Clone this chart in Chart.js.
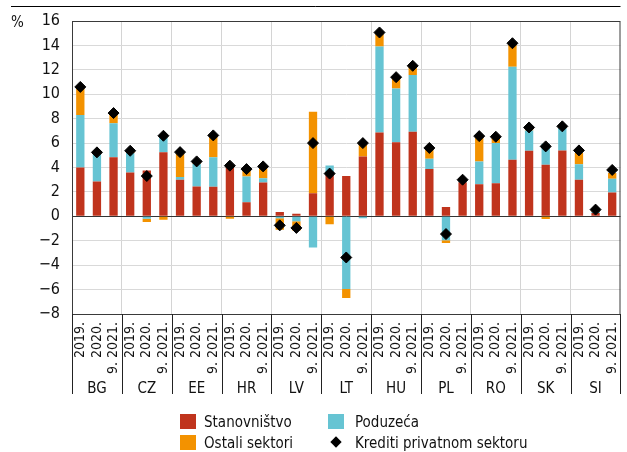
<!DOCTYPE html>
<html>
<head>
<meta charset="utf-8">
<script src="https://cdn.jsdelivr.net/npm/chart.js@4.4.1/dist/chart.umd.min.js"></script>
<style>
  body { margin: 0; background: #fff; }
  #wrap { position: relative; width: 627px; height: 452px; }
  #legend { position: absolute; left: 0; top: 0; width: 627px; height: 452px; pointer-events: none;
            font-family: 'Liberation Sans Narrow', 'DejaVu Sans Condensed', sans-serif; font-size: 15px; color: #111; }
  .item { position: absolute; height: 16px; line-height: 16px; white-space: nowrap; }
  .sw { position: absolute; left: 0; top: 0; width: 16px; height: 15px; }
  .dia { position: absolute; left: 4px; top: 3px; width: 8px; height: 8px; background: #000; transform: rotate(45deg); }
  .lbl { position: absolute; left: 24px; top: 0; }
</style>
</head>
<body>
<div id="wrap">
  <canvas id="chart" width="627" height="452"></canvas>
  <div id="legend">
    <div class="item" style="left:180px; top:414px;"><div class="sw" style="background:#c0341d"></div><span class="lbl">Stanovništvo</span></div>
    <div class="item" style="left:328px; top:414px;"><div class="sw" style="background:#66c4d3"></div><span class="lbl" style="left:27px">Poduzeća</span></div>
    <div class="item" style="left:180px; top:435px;"><div class="sw" style="background:#f39200"></div><span class="lbl">Ostali sektori</span></div>
    <div class="item" style="left:328px; top:435px;"><div class="dia"></div><span class="lbl" style="left:27px">Krediti privatnom sektoru</span></div>
  </div>
</div>
<script>
var countries = ['BG', 'CZ', 'EE', 'HR', 'LV', 'LT', 'HU', 'PL', 'RO', 'SK', 'SI'];
var periods = ['2019.', '2020.', '9. 2021.'];

// three values per country, in the order of periods
var stanovnistvo = [
  4.0, 2.86, 4.83,   3.6, 3.76, 5.24,   3.0, 2.45, 2.43,   4.15, 1.15, 2.78,
  0.35, 0.22, 1.9,   3.5, 3.3, 4.91,    6.87, 6.06, 6.93,  3.87, 0.76, 2.8,
  2.62, 2.7, 4.64,   5.37, 4.23, 5.4,   3.0, 0.27, 1.96
];
var poduzeca = [
  4.3, 2.24, 2.8,    1.58, -0.2, 1.3,   0.22, 1.86, 2.4,   0.1, 2.12, 0.33,
  -0.15, -0.4, -2.56, 0.67, -5.95, -0.16, 7.04, 4.41, 4.64, 0.85, -1.96, 0.1,
  1.88, 3.3, 7.61,   1.67, 1.72, 1.83,  1.26, 0.1, 1.12
];
var ostali = [
  2.26, 0.14, 0.82,  0.2, -0.27, -0.27, 2.02, 0.15, 1.72,  -0.2, 0.49, 0.9,
  -0.95, -0.77, 6.66, -0.65, -0.74, 1.04, 1.15, 0.93, 0.76, 0.82, -0.22, 0.1,
  2.05, 0.49, 1.93,  0.2, -0.22, 0.14,  0.92, 0.18, 0.47
];
var krediti = [
  10.6, 5.24, 8.46,  5.37, 3.3, 6.6,    5.26, 4.5, 6.63,   4.15, 3.87, 4.09,
  -0.74, -0.95, 6.0, 3.5, -3.37, 6.0,   15.06, 11.4, 12.33, 5.6, -1.45, 3.0,
  6.57, 6.52, 14.18, 7.28, 5.73, 7.37,  5.4, 0.55, 3.8
];

var labels = [];
countries.forEach(function (c) {
  periods.forEach(function (p) { labels.push(p); });
});

var FONT = "'Liberation Sans Narrow', 'DejaVu Sans Condensed', sans-serif";

var groupAxis = {
  id: 'groupAxis',
  afterDraw: function (chart) {
    var ctx = chart.ctx;
    var area = chart.chartArea;
    var x = chart.scales.x;
    ctx.save();
    // plot frame
    ctx.strokeStyle = '#3a3a3a';
    ctx.lineWidth = 1;
    ctx.strokeRect(area.left + 0.5, area.top + 0.5, area.right - area.left - 1, area.bottom - area.top);
    // rule above the chart
    ctx.strokeStyle = '#000';
    ctx.beginPath();
    ctx.moveTo(11, 6.5);
    ctx.lineTo(area.right, 6.5);
    ctx.stroke();
    // unit
    ctx.fillStyle = '#111';
    ctx.font = '15px ' + FONT;
    ctx.textAlign = 'left';
    ctx.textBaseline = 'middle';
    ctx.fillText('%', 11, 23);
    // group separators and country names
    ctx.strokeStyle = '#222';
    ctx.beginPath();
    for (var g = 0; g <= countries.length; g++) {
      var px;
      if (g === 0) px = area.left;
      else if (g === countries.length) px = area.right - 1;
      else px = (x.getPixelForValue(g * 3 - 1) + x.getPixelForValue(g * 3)) / 2;
      px = Math.round(px) + 0.5;
      ctx.moveTo(px, area.bottom);
      ctx.lineTo(px, 394);
    }
    ctx.stroke();
    ctx.textAlign = 'center';
    ctx.font = '15px ' + FONT;
    countries.forEach(function (c, i) {
      ctx.fillText(c, x.getPixelForValue(i * 3 + 1), 389);
    });
    ctx.restore();
  }
};

new Chart(document.getElementById('chart'), {
  data: {
    labels: labels,
    datasets: [
      { type: 'line', label: 'Krediti privatnom sektoru', data: krediti, stack: 'line', order: 0,
        showLine: false, pointStyle: 'rectRot', pointRadius: 5.5, pointHoverRadius: 5.5,
        pointBackgroundColor: '#000', pointBorderColor: '#000', pointBorderWidth: 1 },
      { type: 'bar', label: 'Stanovništvo', data: stanovnistvo, stack: 'a', order: 1, backgroundColor: '#c0341d' },
      { type: 'bar', label: 'Poduzeća', data: poduzeca, stack: 'a', order: 1, backgroundColor: '#66c4d3' },
      { type: 'bar', label: 'Ostali sektori', data: ostali, stack: 'a', order: 1, backgroundColor: '#f39200' }
    ]
  },
  options: {
    responsive: false,
    animation: false,
    layout: { padding: { top: 21, right: 4, left: 0, bottom: 0 } },
    datasets: { bar: { categoryPercentage: 1, barPercentage: 0.5 } },
    plugins: { legend: { display: false }, tooltip: { enabled: false } },
    scales: {
      x: {
        stacked: true,
        afterFit: function (s) { s.height = 138; s.paddingLeft = 0; s.paddingRight = 0; },
        grid: {
          drawTicks: false,
          color: function (c) { return c.index % 3 === 0 ? '#d4d4d4' : 'rgba(0,0,0,0)'; }
        },
        border: { color: '#222' },
        ticks: {
          autoSkip: false, minRotation: 90, maxRotation: 90, padding: 8, color: '#111',
          font: { family: FONT, size: 14 }
        }
      },
      y: {
        stacked: true,
        min: -8, max: 16,
        afterFit: function (s) { s.width = 72; s.paddingTop = 0; s.paddingBottom = 0; },
        grid: {
          drawTicks: false,
          lineWidth: 1,
          color: function (c) { return c.tick && c.tick.value === 0 ? '#333' : '#d9d9d9'; }
        },
        border: { color: '#222' },
        ticks: {
          stepSize: 2, padding: 12, color: '#111',
          font: { family: FONT, size: 16 },
          callback: function (v) { return String(v).replace('-', '\u2212'); }
        }
      }
    }
  },
  plugins: [groupAxis]
});
</script>
</body>
</html>
